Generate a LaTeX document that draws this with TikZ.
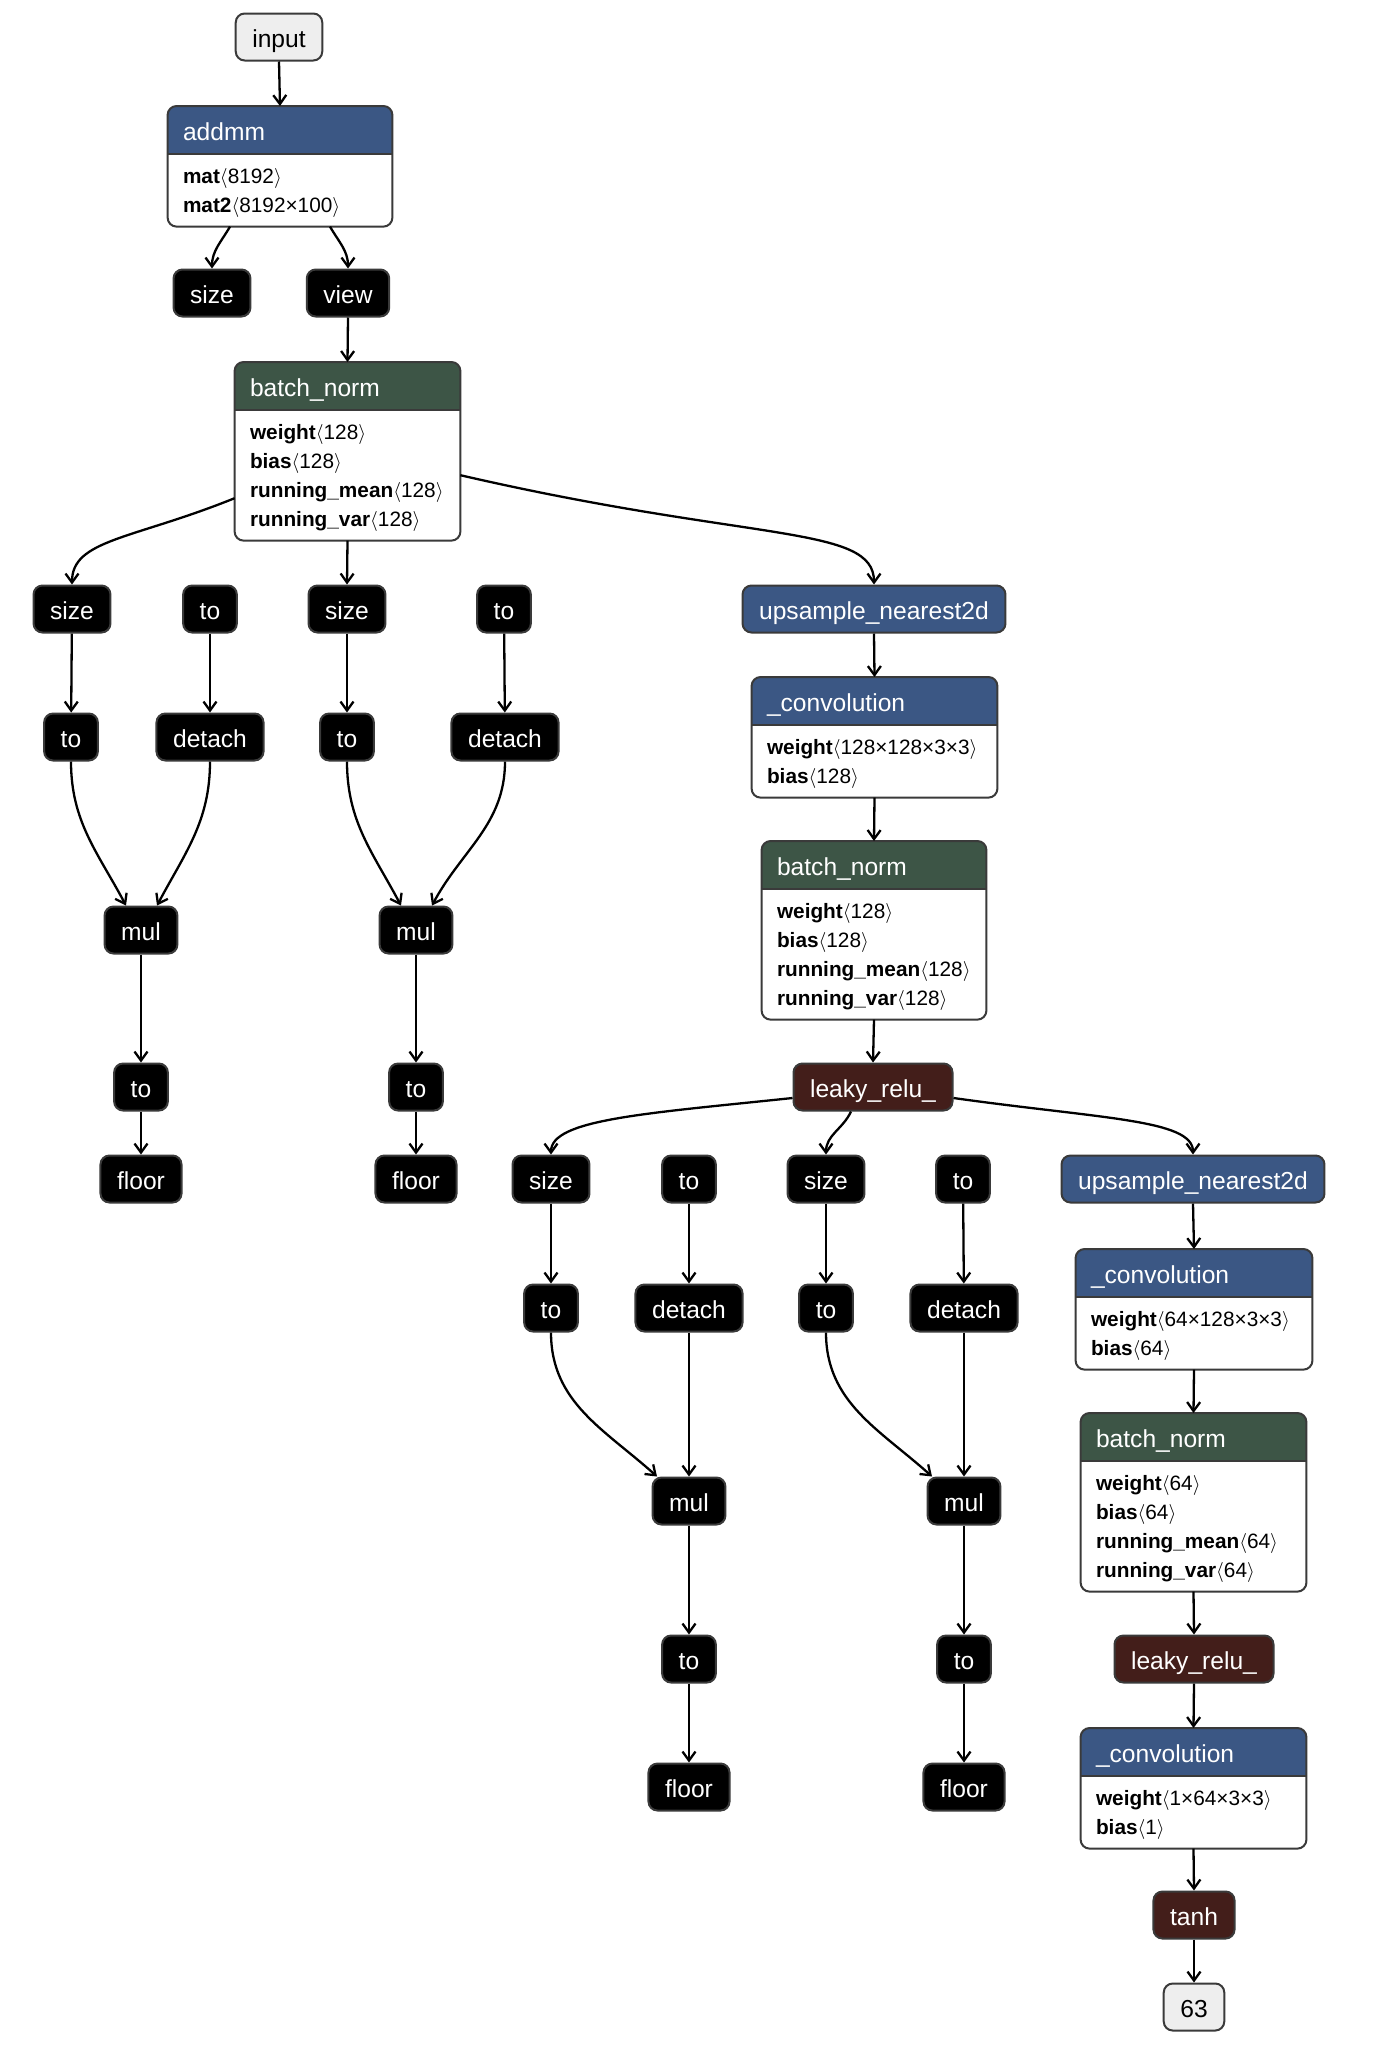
\documentclass[tikz,border=0pt]{standalone}
\usepackage{fontspec}
\setmainfont{Liberation Sans}
\usetikzlibrary{arrows.meta,positioning,backgrounds}

\definecolor{cardblue}{HTML}{3B5784}
\definecolor{cardgreen}{HTML}{3D5546}
\definecolor{actbrown}{HTML}{431E1A}
\definecolor{iogray}{HTML}{EEEEEE}
\definecolor{framegray}{HTML}{3A3A3A}

\newcommand{\opfont}{\fontsize{12.3}{14}\selectfont}
\newcommand{\attrfont}{\fontsize{10.4}{14.5}\selectfont}
\newcommand{\attrstrut}{\rule[-3.5pt]{0pt}{14.5pt}}
\newcommand{\attr}[2]{\attrstrut\textbf{#1}$\langle$#2$\rangle$}

\tikzset{
  op/.style={rectangle, rounded corners=4.5pt, draw=framegray, line width=1pt,
    fill=black, text=white, font=\opfont, minimum height=23.5pt,
    inner xsep=8.3pt, inner ysep=0pt, text height=11pt, text depth=1pt},
  io/.style={op, fill=iogray, text=black},
  act/.style={op, fill=actbrown},
  upsm/.style={op, fill=cardblue},
  cardhead/.style={rectangle, inner xsep=7.5pt, inner ysep=0pt, minimum height=23.5pt,
    text=white, font=\opfont, align=left, text height=12pt, text depth=1pt},
  cardbody/.style={rectangle, inner xsep=7.5pt, inner ysep=3.5pt, font=\attrfont, align=left},
  cardline/.style={draw=framegray, line width=1pt},
  wire/.style={-{Straight Barb[length=4.5pt,width=6.5pt]}, line width=1.15pt},
}

% card: name, top centre, colour, title, text width, attributes
\newcommand{\opcard}[6]{%
  \node[cardhead, text width=#5, anchor=north] (#1) at (#2) {#4};
  \node[cardbody, text width=#5, anchor=north] (#1-b) at (#1.south) {#6};
  \begin{pgfonlayer}{background}
    \begin{scope}
      \clip[rounded corners=4.5pt] (#1.north west) rectangle (#1-b.south east);
      \fill[#3] (#1.north west) rectangle (#1.south east);
    \end{scope}
  \end{pgfonlayer}
  \draw[cardline] (#1.south west) -- (#1.south east);
  \draw[cardline, rounded corners=4.5pt] (#1.north west) rectangle (#1-b.south east);
}

\begin{document}
\begin{tikzpicture}[x=0.5pt, y=0.5pt]
  \useasboundingbox (0,0) rectangle (1372,-2056);
  \begin{pgfonlayer}{background}
    \fill[white] (0,0) rectangle (1372,-2056);
  \end{pgfonlayer}

  % first linear block
  \node[io] (input) at (279,-37) {input};
  \opcard{addmm}{280,-106}{cardblue}{addmm}{97pt}{\attr{mat}{8192}\\\attr{mat2}{8192×100}}
  \node[op] (size0) at (212,-293) {size};
  \node[op] (view) at (348,-293) {view};
  \opcard{bn1}{347.5,-362}{cardgreen}{batch\_norm}{97.5pt}{\attr{weight}{128}\\\attr{bias}{128}\\\attr{running\_mean}{128}\\\attr{running\_var}{128}}

  % scale branches, first stage
  \node[op] (size1) at (72,-609) {size};
  \node[op] (to1) at (210,-609) {to};
  \node[op] (size2) at (347,-609) {size};
  \node[op] (to2) at (504,-609) {to};
  \node[upsm] (ups1) at (874,-609) {upsample\_nearest2d};
  \node[op] (cast1) at (71,-737) {to};
  \node[op] (detach1) at (210,-737) {detach};
  \node[op] (cast2) at (347,-737) {to};
  \node[op] (detach2) at (505,-737) {detach};
  \node[op] (mul1) at (141,-930) {mul};
  \node[op] (mul2) at (416,-930) {mul};
  \node[op] (cast3) at (141,-1087) {to};
  \node[op] (cast4) at (416,-1087) {to};
  \node[op] (floor1) at (141,-1179) {floor};
  \node[op] (floor2) at (416,-1179) {floor};

  \opcard{conv1}{874.5,-677}{cardblue}{\_convolution}{107.5pt}{\attr{weight}{128×128×3×3}\\\attr{bias}{128}}
  \opcard{bn2}{874,-841}{cardgreen}{batch\_norm}{97pt}{\attr{weight}{128}\\\attr{bias}{128}\\\attr{running\_mean}{128}\\\attr{running\_var}{128}}
  \node[act] (leaky1) at (873,-1087) {leaky\_relu\_};

  % scale branches, second stage
  \node[op] (size3) at (551,-1179) {size};
  \node[op] (to3) at (689,-1179) {to};
  \node[op] (size4) at (826,-1179) {size};
  \node[op] (to4) at (963,-1179) {to};
  \node[upsm] (ups2) at (1193,-1179) {upsample\_nearest2d};
  \node[op] (cast5) at (551,-1308) {to};
  \node[op] (detach3) at (689,-1308) {detach};
  \node[op] (cast6) at (826,-1308) {to};
  \node[op] (detach4) at (964,-1308) {detach};
  \node[op] (mul3) at (689,-1501) {mul};
  \node[op] (mul4) at (964,-1501) {mul};
  \node[op] (cast7) at (689,-1659) {to};
  \node[op] (cast8) at (964,-1659) {to};
  \node[op] (floor3) at (689,-1787) {floor};
  \node[op] (floor4) at (964,-1787) {floor};

  \opcard{conv2}{1194,-1249}{cardblue}{\_convolution}{103pt}{\attr{weight}{64×128×3×3}\\\attr{bias}{64}}
  \opcard{bn3}{1193.5,-1413}{cardgreen}{batch\_norm}{97.5pt}{\attr{weight}{64}\\\attr{bias}{64}\\\attr{running\_mean}{64}\\\attr{running\_var}{64}}
  \node[act] (leaky2) at (1194,-1659) {leaky\_relu\_};
  \opcard{conv3}{1193.5,-1728}{cardblue}{\_convolution}{97.5pt}{\attr{weight}{1×64×3×3}\\\attr{bias}{1}}
  \node[act] (tanh) at (1194,-1915) {tanh};
  \node[io] (out) at (1194,-2007) {63};

  % edges
  \draw[wire] (input.south) -- (addmm.north);
  \draw[wire] ([xshift=-25pt]addmm-b.south) to[out=-120,in=90] (size0.north);
  \draw[wire] ([xshift=25pt]addmm-b.south) to[out=-60,in=90] (view.north);
  \draw[wire] (view.south) -- (bn1.north);
  \draw[wire] ([yshift=-11.5pt]bn1-b.west) .. controls +(-158:110) and +(0,45) .. (size1.north);
  \draw[wire] (bn1-b.south) -- (size2.north);
  \draw[wire] (bn1-b.east) .. controls +(-13:300) and +(0,60) .. (ups1.north);
  \draw[wire] (size1) -- (cast1);
  \draw[wire] (to1) -- (detach1);
  \draw[wire] (size2) -- (cast2);
  \draw[wire] (to2) -- (detach2);
  \draw[wire] (cast1.south) to[out=-90,in=118] ([xshift=-7.5pt]mul1.north);
  \draw[wire] (detach1.south) to[out=-90,in=62] ([xshift=8pt]mul1.north);
  \draw[wire] (cast2.south) to[out=-90,in=118] ([xshift=-7.5pt]mul2.north);
  \draw[wire] (detach2.south) to[out=-90,in=62] ([xshift=8pt]mul2.north);
  \draw[wire] (mul1) -- (cast3);
  \draw[wire] (cast3) -- (floor1);
  \draw[wire] (mul2) -- (cast4);
  \draw[wire] (cast4) -- (floor2);

  \draw[wire] (ups1.south) -- (conv1.north);
  \draw[wire] (conv1-b.south) -- (bn2.north);
  \draw[wire] (bn2-b.south) -- (leaky1.north);
  \draw[wire] ([yshift=-5.5pt]leaky1.west) .. controls +(-174:150) and +(0,35) .. (size3.north);
  \draw[wire] ([xshift=-11pt]leaky1.south) to[out=-115,in=90] (size4.north);
  \draw[wire] ([yshift=-5.5pt]leaky1.east) .. controls +(-8:150) and +(0,35) .. (ups2.north);
  \draw[wire] (size3) -- (cast5);
  \draw[wire] (to3) -- (detach3);
  \draw[wire] (size4) -- (cast6);
  \draw[wire] (to4) -- (detach4);
  \draw[wire] (cast5.south) to[out=-90,in=138] ([xshift=-16pt]mul3.north);
  \draw[wire] (detach3) -- (mul3);
  \draw[wire] (cast6.south) to[out=-90,in=138] ([xshift=-16pt]mul4.north);
  \draw[wire] (detach4) -- (mul4);
  \draw[wire] (mul3) -- (cast7);
  \draw[wire] (cast7) -- (floor3);
  \draw[wire] (mul4) -- (cast8);
  \draw[wire] (cast8) -- (floor4);

  \draw[wire] (ups2.south) -- (conv2.north);
  \draw[wire] (conv2-b.south) -- (bn3.north);
  \draw[wire] (bn3-b.south) -- (leaky2.north);
  \draw[wire] (leaky2.south) -- (conv3.north);
  \draw[wire] (conv3-b.south) -- (tanh.north);
  \draw[wire] (tanh.south) -- (out.north);
\end{tikzpicture}
\end{document}
